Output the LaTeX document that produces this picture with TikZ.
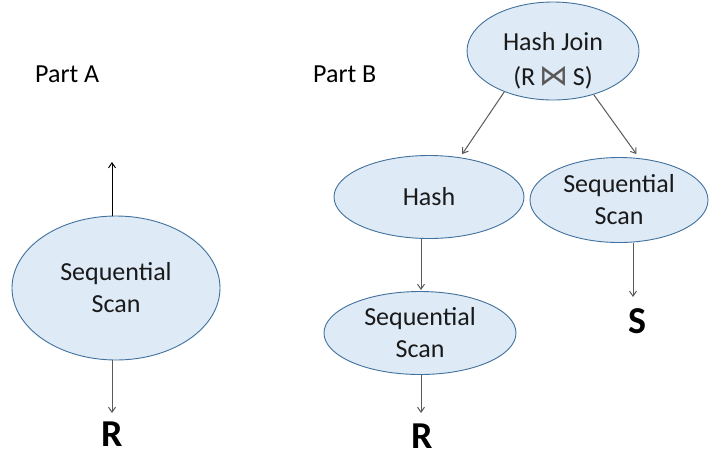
\documentclass[tikz,border=0pt]{standalone}
\usepackage{fontspec}
\setmainfont{Carlito}
\newfontfamily\symfont{DejaVu Sans}
\usetikzlibrary{shapes.geometric,arrows.meta}
\definecolor{ellfill}{HTML}{DEEAF6}
\definecolor{elldraw}{HTML}{41719C}
\definecolor{arrgray}{HTML}{595959}
\definecolor{txt}{HTML}{1A1A1A}
\tikzset{
  opnode/.style={ellipse, draw=elldraw, fill=ellfill, line width=0.9pt, inner sep=0pt,
    text=txt, font=\fontsize{26}{32}\selectfont, align=center},
  conn/.style={draw=arrgray, line width=1pt, -{Straight Barb[length=5pt,width=7pt]}},
  connblack/.style={draw=black, line width=1pt, -{Straight Barb[length=5pt,width=7pt]}},
  rel/.style={font=\fontsize{38}{40}\selectfont\bfseries, text=black, inner sep=0pt},
  partlbl/.style={font=\fontsize{26}{30}\selectfont, text=black, inner sep=0pt, anchor=base west}
}
\begin{document}
\begin{tikzpicture}[x=1pt,y=-1pt]
\useasboundingbox (0,0) rectangle (710,456);
% labels
\node[partlbl] (pa) at (35,82) {Part A};
\node[partlbl] (pb) at (313,82) {Part B};
% Part A
\node[opnode, minimum width=208pt, minimum height=144pt] (sa) at (116,288) {Sequential\\Scan};
\coordinate (aTop) at (112,162);
\coordinate (aBot) at (112,413);
\node[rel] (ra) at (112,434) {R};
\draw[connblack] (aTop |- sa.north) -- (aTop);
\draw[conn] (sa.south -| aBot) -- (aBot);
% Part B
\node[opnode, minimum width=172pt, minimum height=98pt] (hj) at (553,51) {};
\node[text=txt, font=\fontsize{26}{35}\selectfont, align=center, inner sep=0pt] (hjt) at (553,61)
  {Hash Join\\(R\,{\color{arrgray}\symfont\fontsize{29}{30}\selectfont ⋈}\,S)};
\node[opnode, minimum width=190pt, minimum height=83pt] (hash) at (429,197) {Hash};
\node[opnode, minimum width=178pt, minimum height=85pt] (ss) at (619,200) {Sequential\\Scan};
\node[opnode, minimum width=192pt, minimum height=83pt] (sr) at (420,333) {Sequential\\Scan};
\coordinate (hBot) at (421,290);
\coordinate (rbTop) at (421,413);
\coordinate (sTop) at (633,297);
\node[rel] (rb) at (422,436) {R};
\node[rel] (s) at (637,321) {S};
\draw[conn, shorten >=4pt] (hj.220) -- (hash.52);
\draw[conn, shorten >=5pt] (hj.313) -- (ss.64);
\draw[conn] (hash.south -| hBot) -- (hBot);
\draw[conn] (sr.south -| rbTop) -- (rbTop);
\draw[conn] (ss.south -| sTop) -- (sTop);
\end{tikzpicture}
\end{document}
